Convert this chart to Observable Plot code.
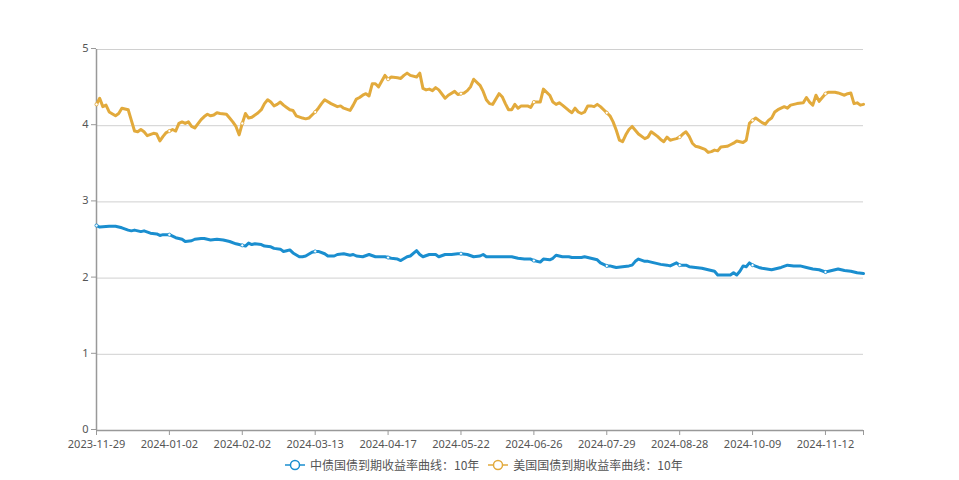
<!DOCTYPE html>
<html>
<head>
<meta charset="utf-8">
<script src="https://cdn.jsdelivr.net/npm/d3@7"></script>
<script src="https://cdn.jsdelivr.net/npm/@observablehq/plot@0.6"></script>
<style>
  html, body { margin: 0; padding: 0; background: #fff; }
  #wrap { position: relative; width: 959px; height: 480px; overflow: hidden; }
  #legend { position: absolute; left: 285px; top: 456px; display: flex; align-items: center;
    font-family: "Noto Sans CJK SC", "Noto Sans", sans-serif; font-size: 12px; color: #555; white-space: nowrap; }
  .item { display: flex; align-items: center; margin-right: 9px; }
  .item svg { margin-right: 5px; }
</style>
</head>
<body>
<div id="wrap">
  <div id="chart"></div>
  <div id="legend"></div>
</div>
<script>
// Trading-day index of each tick label on the category axis
const tickDays = [0, 23, 46, 69, 92, 115, 138, 161, 184, 207, 230];
const tickLabels = ["2023-11-29", "2024-01-02", "2024-02-02", "2024-03-13", "2024-04-17", "2024-05-22",
  "2024-06-26", "2024-07-29", "2024-08-28", "2024-10-09", "2024-11-12"];
const lastDay = 242;
const yTicks = [0, 1, 2, 3, 4, 5];

const seriesNames = ["中债国债到期收益率曲线：10年", "美国国债到期收益率曲线：10年"];
const seriesColors = ["#1a8ecf", "#e2aa3c"];

// China 10Y (sampled trading days)
const cnDay = [0,1,4,6,8,10,11,12,14,15,17,19,20,21,23,25,27,28,30,31,33,34,36,38,40,42,44,45,46,47,48,49,50,52,53,55,56,58,59,60,61,62,64,65,66,68,69,70,72,73,75,76,78,80,81,82,84,86,88,91,92,93,95,96,98,99,101,102,103,105,107,108,110,112,114,115,117,119,121,122,123,126,128,131,133,135,137,138,140,141,143,144,145,147,149,150,153,154,156,158,159,161,162,163,164,166,168,169,170,171,173,174,176,178,180,181,183,184,186,187,189,191,193,195,196,198,200,201,202,203,204,205,206,207,209,210,213,214,216,218,220,222,224,226,228,230,232,234,236,238,240,242];
const cnYield = [2.69,2.67,2.68,2.68,2.66,2.63,2.62,2.63,2.61,2.62,2.59,2.58,2.56,2.57,2.57,2.53,2.51,2.48,2.49,2.51,2.52,2.52,2.50,2.51,2.50,2.48,2.45,2.44,2.43,2.42,2.46,2.44,2.45,2.44,2.42,2.41,2.39,2.38,2.35,2.36,2.37,2.33,2.28,2.28,2.29,2.34,2.35,2.35,2.32,2.29,2.29,2.31,2.32,2.30,2.31,2.29,2.28,2.31,2.28,2.28,2.27,2.26,2.25,2.23,2.28,2.29,2.36,2.31,2.28,2.31,2.31,2.28,2.31,2.31,2.32,2.32,2.31,2.28,2.29,2.31,2.28,2.28,2.28,2.28,2.26,2.25,2.25,2.23,2.21,2.25,2.24,2.26,2.30,2.28,2.28,2.27,2.27,2.28,2.26,2.24,2.20,2.16,2.16,2.15,2.14,2.15,2.16,2.17,2.22,2.25,2.22,2.22,2.20,2.18,2.17,2.16,2.20,2.17,2.17,2.15,2.14,2.13,2.11,2.09,2.04,2.04,2.04,2.07,2.04,2.09,2.16,2.15,2.20,2.17,2.14,2.13,2.11,2.12,2.14,2.17,2.16,2.16,2.14,2.12,2.11,2.08,2.10,2.12,2.10,2.09,2.07,2.06];

// US 10Y (sampled trading days)
const usDay = [0,1,2,3,4,6,7,8,10,11,12,13,14,15,16,18,19,20,21,22,23,24,25,26,27,28,29,30,31,33,34,35,36,37,38,39,41,42,43,44,45,46,47,48,49,51,52,53,54,55,56,57,58,59,60,61,62,63,65,66,67,68,69,70,71,72,74,75,76,77,78,80,81,82,83,84,85,86,87,88,89,91,92,93,95,96,97,98,99,101,102,103,104,105,106,107,108,110,111,113,114,115,116,117,118,119,121,122,123,124,125,127,128,129,130,131,132,133,134,135,136,137,138,140,141,143,144,145,146,147,149,150,151,152,153,154,155,156,157,158,159,161,162,163,164,165,166,167,168,169,170,171,173,174,175,176,177,178,179,180,181,182,183,184,185,186,187,188,189,190,192,193,194,195,196,197,199,200,201,202,203,204,205,206,207,208,209,210,211,212,213,214,215,216,217,218,219,221,223,224,225,226,227,228,230,231,233,234,236,237,238,239,240,241,242];
const usYield = [4.28,4.36,4.25,4.27,4.18,4.13,4.16,4.23,4.21,4.07,3.93,3.92,3.95,3.92,3.87,3.90,3.89,3.80,3.86,3.91,3.93,3.95,3.93,4.03,4.05,4.03,4.05,3.99,3.97,4.08,4.12,4.15,4.13,4.14,4.17,4.16,4.15,4.10,4.05,3.99,3.88,4.03,4.16,4.10,4.11,4.17,4.21,4.29,4.34,4.31,4.26,4.28,4.31,4.27,4.24,4.21,4.20,4.13,4.10,4.09,4.10,4.14,4.18,4.23,4.29,4.34,4.29,4.27,4.25,4.26,4.23,4.20,4.27,4.35,4.37,4.40,4.42,4.39,4.55,4.55,4.51,4.66,4.61,4.64,4.63,4.62,4.66,4.69,4.66,4.64,4.69,4.49,4.47,4.48,4.46,4.50,4.47,4.36,4.40,4.45,4.41,4.42,4.43,4.46,4.51,4.61,4.53,4.45,4.34,4.29,4.28,4.42,4.38,4.29,4.21,4.21,4.28,4.23,4.26,4.26,4.26,4.24,4.31,4.31,4.48,4.40,4.31,4.28,4.30,4.27,4.20,4.17,4.23,4.18,4.16,4.18,4.26,4.26,4.25,4.28,4.25,4.17,4.13,4.05,3.94,3.81,3.79,3.88,3.95,3.99,3.94,3.89,3.83,3.85,3.92,3.89,3.86,3.82,3.79,3.85,3.81,3.82,3.83,3.85,3.89,3.92,3.86,3.77,3.73,3.72,3.69,3.65,3.66,3.68,3.67,3.72,3.73,3.75,3.77,3.80,3.79,3.78,3.81,4.03,4.07,4.10,4.07,4.04,4.02,4.07,4.10,4.18,4.21,4.23,4.25,4.23,4.27,4.29,4.30,4.37,4.31,4.27,4.40,4.32,4.42,4.44,4.44,4.43,4.40,4.42,4.43,4.29,4.30,4.27,4.28];

const cn = cnDay.map((d, i) => ({day: d, value: cnYield[i], series: seriesNames[0]}));
const us = usDay.map((d, i) => ({day: d, value: usYield[i], series: seriesNames[1]}));
const labelOf = new Map(tickDays.map((d, i) => [d, tickLabels[i]]));
const cnMarks = cn.filter(d => labelOf.has(d.day));
const usMarks = us.filter(d => labelOf.has(d.day));

const font = "'Noto Sans', 'Noto Sans CJK SC', sans-serif";
const axisColor = "#6e7079";

const chart = Plot.plot({
  width: 959,
  height: 452,
  marginLeft: 96,
  marginRight: 96,
  marginTop: 49,
  marginBottom: 22,
  style: {fontFamily: font, fontSize: "11px", color: axisColor, background: "#fff"},
  x: {type: "linear", domain: [0, lastDay]},
  y: {domain: [0, 5]},
  marks: [
    Plot.gridY(yTicks.slice(1), {stroke: "#d0d0d0", strokeOpacity: 1, strokeWidth: 1}),
    Plot.axisY(yTicks, {tickSize: 5, tickPadding: 3, stroke: "#999", fill: "#555", label: null, fontSize: 11,
      tickFormat: d => String(d), dy: -1}),
    Plot.axisX([...tickDays, lastDay], {tickSize: 5, tickPadding: 5, stroke: "#999", fill: "#555", label: null, fontSize: 11,
      tickFormat: d => labelOf.get(d) ?? ""}),
    Plot.ruleX([0], {stroke: "#999", strokeWidth: 1.5}),
    Plot.ruleY([0], {stroke: "#999", strokeWidth: 1.5}),
    Plot.line(us, {x: "day", y: "value", stroke: seriesColors[1], strokeWidth: 3, curve: "linear"}),
    Plot.line(cn, {x: "day", y: "value", stroke: seriesColors[0], strokeWidth: 3, curve: "linear"}),
    Plot.dot(usMarks, {x: "day", y: "value", r: 1.6, fill: "#fff", stroke: seriesColors[1], strokeWidth: 0.8}),
    Plot.dot(cnMarks, {x: "day", y: "value", r: 1.6, fill: "#fff", stroke: seriesColors[0], strokeWidth: 0.8})
  ]
});
document.getElementById("chart").appendChild(chart);

const legend = document.getElementById("legend");
seriesNames.forEach((name, i) => {
  const item = document.createElement("div");
  item.className = "item";
  const c = seriesColors[i];
  item.innerHTML = `<svg width="20" height="12"><line x1="0" y1="6" x2="20" y2="6" stroke="${c}" stroke-width="1.5"/><circle cx="10" cy="6" r="4.5" fill="#fff" stroke="${c}" stroke-width="1.5"/></svg><span>${name}</span>`;
  legend.appendChild(item);
});
</script>
</body>
</html>
